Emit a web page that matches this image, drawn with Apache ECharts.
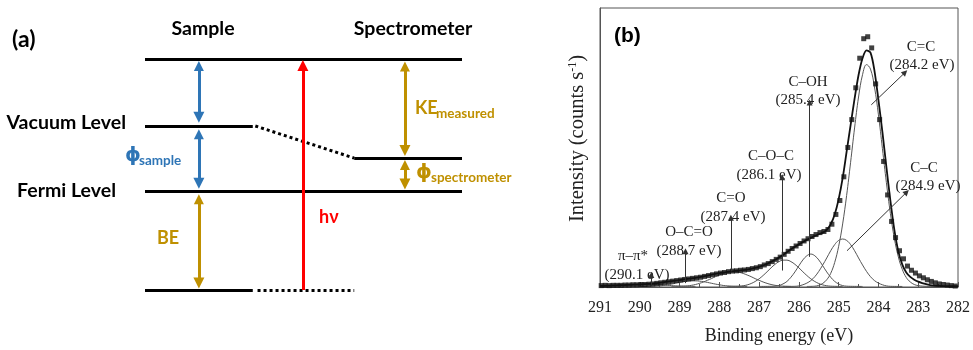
<!DOCTYPE html>
<html>
<head>
<meta charset="utf-8">
<script src="https://cdn.jsdelivr.net/npm/echarts@6/dist/echarts.min.js"></script>
<style>
  html, body { margin: 0; padding: 0; background: #fff; }
  #chart { width: 973px; height: 350px; }
</style>
</head>
<body>
<div id="chart"></div>
<script>
// ---------- (a) energy-level diagram ----------
// relative energies of the drawn levels (core level = 0, photon level = 10)
const levelCore = 0;
const levelFermi = 4.29;
const levelVacSpec = 5.71;
const levelVacSample = 7.1;
const levelPhoton = 10;
// horizontal extent of the sample / spectrometer columns (0..100)
const sampleSpan = [0, 34];
const specSpan = [66, 100];
const arrowXSample = 17;
const arrowXPhoton = 49.8;
const arrowXSpec = 82;

// ---------- (b) C 1s XPS spectrum ----------
const xTicks = [291, 290, 289, 288, 287, 286, 285, 284, 283, 282];

const measuredEnergy = [
  290.97,290.87,290.77,290.67,290.57,290.47,290.37,290.27,290.17,290.07,
  289.97,289.87,289.77,289.67,289.57,289.47,289.37,289.27,289.17,289.07,
  288.97,288.87,288.77,288.67,288.57,288.47,288.37,288.27,288.17,288.07,
  287.97,287.87,287.77,287.67,287.57,287.47,287.37,287.27,287.17,287.07,
  286.97,286.87,286.77,286.67,286.57,286.47,286.37,286.27,286.17,286.07,
  285.97,285.87,285.77,285.67,285.57,285.47,285.37,285.27,285.17,285.07,
  284.97,284.87,284.77,284.67,284.57,284.47,284.37,284.27,284.17,284.07,
  283.97,283.87,283.77,283.67,283.57,283.47,283.37,283.27,283.17,283.07,
  282.97,282.87,282.77,282.67,282.57,282.47,282.37,282.27,282.17,282.07
];
const measuredIntensity = [
  0.5,0.6,0.5,0.6,0.6,0.6,0.7,0.7,0.8,0.8,
  0.9,0.9,1.0,1.1,1.3,1.5,1.7,1.9,2.1,2.3,
  2.5,2.7,2.9,3.1,3.3,3.5,3.8,4.1,4.4,4.7,
  5.0,5.2,5.5,5.7,5.8,6.0,6.1,6.3,6.6,6.9,
  7.3,7.9,8.4,9.1,9.9,10.7,11.7,12.8,13.8,14.7,
  15.6,16.5,17.3,18.1,18.8,19.5,19.9,20.6,22.5,26.0,
  31.0,39.5,50.0,60.0,71.4,82.0,89.0,89.7,85.7,72.8,
  60.0,45.0,33.0,23.5,17.7,13.0,10.1,7.5,6.0,5.0,
  4.0,3.3,2.6,2.0,1.5,1.1,0.9,0.7,0.5,0.35
];

const envelopeEnergy = [
  291.0,290.9,290.8,290.7,290.6,290.5,290.4,290.3,290.2,290.1,
  290.0,289.9,289.8,289.7,289.6,289.5,289.4,289.3,289.2,289.1,
  289.0,288.9,288.8,288.7,288.6,288.5,288.4,288.3,288.2,288.1,
  288.0,287.9,287.8,287.7,287.6,287.5,287.4,287.3,287.2,287.1,
  287.0,286.9,286.8,286.7,286.6,286.5,286.4,286.3,286.2,286.1,
  286.0,285.9,285.8,285.7,285.6,285.5,285.4,285.3,285.2,285.1,
  285.0,284.9,284.8,284.7,284.6,284.5,284.4,284.3,284.2,284.1,
  284.0,283.9,283.8,283.7,283.6,283.5,283.4,283.3,283.2,283.1,
  283.0,282.9,282.8,282.7,282.6,282.5,282.4,282.3,282.2,282.1,282.0
];
const envelopeIntensity = [
  0.4,0.45,0.5,0.55,0.6,0.65,0.7,0.75,0.8,0.85,
  0.9,1.0,1.1,1.2,1.35,1.5,1.7,1.9,2.1,2.3,
  2.5,2.7,2.9,3.1,3.3,3.55,3.8,4.1,4.4,4.7,
  4.95,5.2,5.4,5.6,5.75,5.9,6.05,6.25,6.5,6.85,
  7.25,7.75,8.3,9.0,9.75,10.6,11.5,12.5,13.5,14.4,
  15.3,16.1,16.9,17.6,18.3,18.9,19.5,20.5,22.5,26.0,
  31.5,39.0,48.5,58.0,67.5,76.0,82.0,84.8,84.0,77.5,
  67.0,55.5,43.0,31.0,20.5,12.8,8.0,5.2,3.6,2.6,
  1.9,1.4,1.0,0.7,0.5,0.4,0.35,0.3,0.3,0.3,0.3
];

// fitted components, [binding energy, intensity]
const peakCC_sp2 = [
  [285.8,0.2],[285.6,0.3],[285.5,0.6],[285.4,1.3],[285.3,2.6],[285.2,4.9],[285.1,8.8],[285.0,14.6],
  [284.9,22.6],[284.8,32.8],[284.7,44.7],[284.6,57.0],[284.5,68.1],[284.4,76.1],[284.3,79.7],
  [284.2,78.1],[284.1,71.7],[284.0,61.7],[283.9,49.6],[283.8,37.4],[283.7,26.4],[283.6,17.4],
  [283.5,10.8],[283.4,6.3],[283.3,3.4],[283.2,1.8],[283.1,0.9],[283.0,0.5],[282.8,0.25],[282.5,0.2]
];
const peakCC_sp3 = [
  [286.4,0.2],[286.1,0.25],[286.0,0.4],[285.9,0.8],[285.8,1.4],[285.7,2.3],[285.6,3.7],[285.5,5.6],
  [285.4,7.9],[285.3,10.4],[285.2,13.0],[285.1,15.2],[285.0,16.7],[284.9,17.2],[284.8,16.7],
  [284.7,15.2],[284.6,13.0],[284.5,10.4],[284.4,7.9],[284.3,5.6],[284.2,3.7],[284.1,2.3],
  [284.0,1.4],[283.9,0.8],[283.8,0.4],[283.7,0.25],[283.4,0.2]
];
const peakCOH = [
  [287.0,0.2],[286.7,0.25],[286.6,0.3],[286.5,0.5],[286.4,1.1],[286.3,2.0],[286.2,3.5],[286.1,5.4],
  [286.0,7.6],[285.9,9.7],[285.8,11.2],[285.7,11.8],[285.6,11.2],[285.5,9.7],[285.4,7.6],
  [285.3,5.4],[285.2,3.5],[285.1,2.0],[285.0,1.1],[284.9,0.5],[284.8,0.3],[284.7,0.25],[284.4,0.2]
];
const peakCOC = [
  [287.8,0.2],[287.6,0.25],[287.5,0.3],[287.4,0.45],[287.3,0.75],[287.2,1.25],[287.1,1.97],
  [287.0,2.93],[286.9,4.12],[286.8,5.46],[286.7,6.86],[286.6,8.13],[286.5,9.1],[286.4,9.63],
  [286.3,9.63],[286.2,9.1],[286.1,8.13],[286.0,6.86],[285.9,5.46],[285.8,4.12],[285.7,2.93],
  [285.6,1.97],[285.5,1.25],[285.4,0.75],[285.3,0.45],[285.2,0.3],[285.1,0.25],[284.9,0.2]
];
const peakCO = [
  [289.2,0.2],[289.0,0.25],[288.9,0.3],[288.8,0.4],[288.7,0.6],[288.6,0.9],[288.5,1.3],[288.4,1.8],
  [288.3,2.4],[288.2,3.0],[288.1,3.7],[288.0,4.3],[287.9,4.85],[287.8,5.26],[287.7,5.49],
  [287.6,5.49],[287.5,5.26],[287.4,4.85],[287.3,4.3],[287.2,3.7],[287.1,3.0],[287.0,2.4],
  [286.9,1.8],[286.8,1.3],[286.7,0.9],[286.6,0.6],[286.5,0.4],[286.4,0.3],[286.2,0.2]
];
const peakOCO = [
  [290.0,0.2],[289.7,0.25],[289.6,0.3],[289.5,0.4],[289.4,0.55],[289.3,0.8],[289.2,1.05],
  [289.1,1.35],[289.0,1.65],[288.9,1.9],[288.8,2.1],[288.7,2.2],[288.6,2.2],[288.5,2.1],
  [288.4,1.9],[288.3,1.65],[288.2,1.35],[288.1,1.05],[288.0,0.8],[287.9,0.55],[287.8,0.4],
  [287.7,0.3],[287.6,0.25],[287.3,0.2]
];
const peakPiPi = [
  [291.0,0.2],[290.9,0.3],[290.7,0.4],[290.5,0.6],[290.3,0.8],[290.1,0.95],[289.9,1.0],
  [289.7,0.95],[289.5,0.8],[289.3,0.6],[289.1,0.4],[288.9,0.3],[288.6,0.2]
];

// component labels and their pointer arrows ([from], [to] in eV / intensity)
const peakNames = ['C=C', 'C\u2013C', 'C\u2013OH', 'C\u2013O\u2013C', 'C=O', 'O\u2013C=O', '\u03c0\u2013\u03c0*'];
const peakEnergyText = ['(284.2 eV)', '(284.9 eV)', '(285.4 eV)', '(286.1 eV)', '(287.4 eV)', '(288.7 eV)', '(290.1 eV)'];
const pointerFrom = [[284.18, 65.3], [284.79, 13.0], [285.73, 10.8], [286.42, 5.9], [287.71, 5.6], [288.85, 1.4], [289.71, 0.8]];
const pointerTo   = [[283.33, 76.9], [283.29, 34.0], [285.73, 66.1], [286.42, 39.3], [287.71, 24.8], [288.85, 12.8], [289.71, 4.3]];
// label anchor (name line), in pixels of the plot page
const labelAnchor = [[921, 47], [924, 168], [808, 82], [771, 156], [731, 198], [689, 232], [633, 256]];
const valueAnchor = [[922, 65], [928, 186], [808, 100], [769, 175], [733, 217], [689, 251], [637, 275]];

const pairs = (xs, ys) => xs.map((x, i) => [x, ys[i]]);

const BLUE = '#2E75B6', GOLD = '#BF9000', RED = '#FF0000';
const boldSans = 'Lato, "Open Sans", "DejaVu Sans", sans-serif';
const serif = '"Liberation Serif", "DejaVu Serif", serif';

const seg = (a, b) => ({ coords: [a, b] });

const chart = echarts.init(document.getElementById('chart'), null, { renderer: 'canvas' });

const componentSeries = [peakCC_sp2, peakCC_sp3, peakCOH, peakCOC, peakCO, peakOCO, peakPiPi].map(d => ({
  type: 'line', xAxisIndex: 1, yAxisIndex: 1, data: d, smooth: 0.4, showSymbol: false,
  lineStyle: { color: '#555', width: 1 }, silent: true, z: 3
}));

const textItems = [];
// (a) labels
textItems.push(
  { type: 'text', style: { text: '(a)', x: 12, y: 40, verticalAlign: 'middle', font: 'bold 23px ' + boldSans, fill: '#000' } },
  { type: 'text', style: { text: 'Sample', x: 203, y: 29, align: 'center', verticalAlign: 'middle', font: 'bold 19.5px ' + boldSans, fill: '#000' } },
  { type: 'text', style: { text: 'Spectrometer', x: 413, y: 29, align: 'center', verticalAlign: 'middle', font: 'bold 19.5px ' + boldSans, fill: '#000' } },
  { type: 'text', style: { text: 'Vacuum Level', x: 126, y: 123, align: 'right', verticalAlign: 'middle', font: 'bold 19.5px ' + boldSans, fill: '#000' } },
  { type: 'text', style: { text: 'Fermi Level', x: 116, y: 191, align: 'right', verticalAlign: 'middle', font: 'bold 19.5px ' + boldSans, fill: '#000' } },
  { type: 'text', style: { text: '\u03d5', x: 125, y: 156, verticalAlign: 'middle', font: 'bold 20px "DejaVu Sans", sans-serif', fill: BLUE } },
  { type: 'text', style: { text: 'sample', x: 139, y: 161, verticalAlign: 'middle', font: 'bold 13.5px ' + boldSans, fill: BLUE } },
  { type: 'text', style: { text: 'BE', x: 157, y: 238, verticalAlign: 'middle', font: 'bold 18px ' + boldSans, fill: GOLD } },
  { type: 'text', style: { text: 'h\u03bd', x: 319, y: 217, verticalAlign: 'middle', font: 'bold 18px ' + boldSans, fill: RED } },
  { type: 'text', style: { text: 'KE', x: 415, y: 108, verticalAlign: 'middle', font: 'bold 18px ' + boldSans, fill: GOLD } },
  { type: 'text', style: { text: 'measured', x: 436, y: 114, verticalAlign: 'middle', font: 'bold 13.5px ' + boldSans, fill: GOLD } },
  { type: 'text', style: { text: '\u03d5', x: 416, y: 173, verticalAlign: 'middle', font: 'bold 20px "DejaVu Sans", sans-serif', fill: GOLD } },
  { type: 'text', style: { text: 'spectrometer', x: 431, y: 178, verticalAlign: 'middle', font: 'bold 13.5px ' + boldSans, fill: GOLD } },
  { type: 'text', style: { text: '(b)', x: 614, y: 36, verticalAlign: 'middle', font: 'bold 21px "Liberation Sans", Arial, sans-serif', fill: '#000' } }
);
// (b) peak labels
peakNames.forEach((n, i) => {
  textItems.push(
    { type: 'text', style: { text: n, x: labelAnchor[i][0], y: labelAnchor[i][1], align: 'center', verticalAlign: 'middle', font: '15px ' + serif, fill: '#222' } },
    { type: 'text', style: { text: peakEnergyText[i], x: valueAnchor[i][0], y: valueAnchor[i][1], align: 'center', verticalAlign: 'middle', font: '15px ' + serif, fill: '#222' } }
  );
});

const option = {
  animation: false,
  backgroundColor: '#fff',
  grid: [
    { left: 145, top: 59, width: 317, height: 231, show: false },
    { left: 600, top: 8, width: 360, height: 286, show: true, borderColor: '#555', borderWidth: 1, backgroundColor: 'transparent' }
  ],
  xAxis: [
    { gridIndex: 0, type: 'value', min: 0, max: 100, show: false },
    {
      gridIndex: 1, type: 'value', min: 282, max: 291, interval: 1, inverse: true,
      axisLine: { lineStyle: { color: '#555', width: 1 } },
      axisTick: { inside: true, length: 5, lineStyle: { color: '#555' } },
      minorTick: { show: true, splitNumber: 2, length: 3, lineStyle: { color: '#555' } },
      splitLine: { show: false },
      axisLabel: { color: '#222', fontFamily: serif, fontSize: 16, margin: 13,
        formatter: v => (xTicks.indexOf(v) >= 0 ? String(v) : '') },
      name: 'Binding energy (eV)', nameLocation: 'middle', nameGap: 40,
      nameTextStyle: { color: '#222', fontFamily: serif, fontSize: 18 }
    }
  ],
  yAxis: [
    { gridIndex: 0, type: 'value', min: 0, max: 10, show: false },
    {
      gridIndex: 1, type: 'value', min: 0, max: 100,
      axisLine: { show: true, lineStyle: { color: '#555', width: 1 } },
      axisTick: { show: false }, axisLabel: { show: false }, splitLine: { show: false },
      name: 'Intensity (counts s{sup|-1})', nameLocation: 'middle', nameGap: 12,
      nameTextStyle: { color: '#222', fontFamily: serif, fontSize: 20.5, padding: [0, 0, 0, 18],
        rich: { sup: { fontFamily: serif, fontSize: 12, color: '#222', verticalAlign: 'top', padding: [0, 0, 9, 0] } } }
    }
  ],
  graphic: textItems,
  series: [
    // energy levels
    {
      type: 'lines', coordinateSystem: 'cartesian2d', xAxisIndex: 0, yAxisIndex: 0, clip: false, z: 2,
      lineStyle: { color: '#000', width: 3, opacity: 1 },
      data: [
        seg([sampleSpan[0], levelPhoton], [specSpan[1], levelPhoton]),
        seg([sampleSpan[0], levelVacSample], [sampleSpan[1], levelVacSample]),
        seg([specSpan[0], levelVacSpec], [specSpan[1], levelVacSpec]),
        seg([sampleSpan[0], levelFermi], [specSpan[1], levelFermi]),
        seg([sampleSpan[0], levelCore], [sampleSpan[1], levelCore])
      ]
    },
    {
      type: 'lines', coordinateSystem: 'cartesian2d', xAxisIndex: 0, yAxisIndex: 0, clip: false, z: 2,
      lineStyle: { color: '#000', width: 3, type: [3, 3], opacity: 1 },
      data: [
        seg([sampleSpan[1] + 0.8, levelVacSample], [specSpan[0], levelVacSpec]),
        seg([sampleSpan[1] + 1.5, levelCore], [specSpan[0], levelCore])
      ]
    },
    // work function / kinetic energy double arrows (sample side, blue)
    {
      type: 'lines', coordinateSystem: 'cartesian2d', xAxisIndex: 0, yAxisIndex: 0, clip: false, z: 3,
      symbol: ['triangle', 'triangle'], symbolSize: [10, 11],
      lineStyle: { color: BLUE, width: 3, opacity: 1 },
      data: [
        seg([arrowXSample, levelPhoton - 0.3], [arrowXSample, levelVacSample + 0.38]),
        seg([arrowXSample, levelVacSample - 0.36], [arrowXSample, levelFermi + 0.33])
      ]
    },
    // binding energy and spectrometer arrows (gold)
    {
      type: 'lines', coordinateSystem: 'cartesian2d', xAxisIndex: 0, yAxisIndex: 0, clip: false, z: 3,
      symbol: ['triangle', 'triangle'], symbolSize: [10, 11],
      lineStyle: { color: GOLD, width: 3, opacity: 1 },
      data: [
        seg([arrowXSample, levelFermi - 0.36], [arrowXSample, levelCore + 0.3]),
        seg([arrowXSpec, levelPhoton - 0.33], [arrowXSpec, levelVacSpec + 0.33]),
        seg([arrowXSpec, levelVacSpec - 0.3], [arrowXSpec, levelFermi + 0.3])
      ]
    },
    // photon energy (red)
    {
      type: 'lines', coordinateSystem: 'cartesian2d', xAxisIndex: 0, yAxisIndex: 0, clip: false, z: 4,
      symbol: ['none', 'triangle'], symbolSize: [10, 11],
      lineStyle: { color: RED, width: 3, opacity: 1 },
      data: [ seg([arrowXPhoton, levelCore], [arrowXPhoton, levelPhoton - 0.28]) ]
    },
    // (b) spectrum
    ...componentSeries,
    {
      type: 'line', xAxisIndex: 1, yAxisIndex: 1, data: pairs(envelopeEnergy, envelopeIntensity),
      smooth: 0.3, showSymbol: false, lineStyle: { color: '#111', width: 1.8 }, z: 4, silent: true
    },
    {
      type: 'scatter', xAxisIndex: 1, yAxisIndex: 1, data: pairs(measuredEnergy, measuredIntensity),
      symbol: 'rect', symbolSize: 5, itemStyle: { color: '#111' }, z: 5, silent: true
    },
    {
      type: 'lines', coordinateSystem: 'cartesian2d', xAxisIndex: 1, yAxisIndex: 1, clip: false, z: 6,
      symbol: ['none', 'triangle'], symbolSize: [4, 6],
      lineStyle: { color: '#333', width: 1, opacity: 1 },
      data: pointerFrom.map((f, i) => seg(f, pointerTo[i]))
    }
  ]
};

chart.setOption(option);
</script>
</body>
</html>
